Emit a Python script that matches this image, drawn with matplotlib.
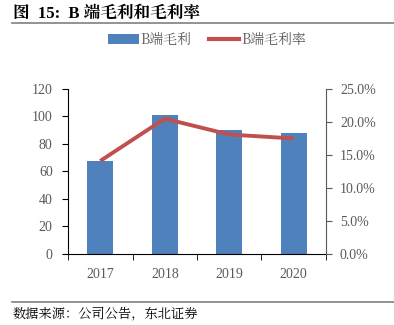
import matplotlib

matplotlib.use("Agg")

import matplotlib.pyplot as plt
import numpy as np
from matplotlib.lines import Line2D
from matplotlib.patches import Patch

# data
years = ["2017", "2018", "2019", "2020"]
gross_profit = [67.5, 101.0, 90.0, 88.0]        # B端毛利
gross_margin = [0.141, 0.205, 0.181, 0.175]     # B端毛利率

left_ticks = [0, 20, 40, 60, 80, 100, 120]
right_ticks = [0.0, 0.05, 0.10, 0.15, 0.20, 0.25]

BAR_BLUE = "#4F81BD"
LINE_RED = "#C0504D"
GREY = "#595959"
NUM_FONT = ["Liberation Serif", "Noto Sans CJK SC"]
CJK_FONT = ["Noto Serif CJK SC", "Noto Sans CJK SC", "DejaVu Sans"]

plt.rcParams["font.family"] = NUM_FONT

fig = plt.figure(figsize=(3.94, 3.25), dpi=100)
ax = fig.add_axes([0.1726, 0.2185, 0.6548, 0.5077])

x = np.arange(len(years))
ax.bar(x, gross_profit, width=0.4, color=BAR_BLUE, zorder=2)
ax.set_xlim(-0.5, len(years) - 0.5)
ax.set_ylim(0, 120)
ax.set_yticks(left_ticks)
ax.set_yticklabels([str(t) for t in left_ticks], fontsize=10, color=GREY)
ax.set_xticks(x)
ax.set_xticklabels(years, fontsize=10, color=GREY)
ax.tick_params(axis="x", length=0, pad=10)
ax.set_xticks(np.arange(-0.5, len(years)), minor=True)
ax.tick_params(axis="x", which="minor", length=4, direction="out", color="black")
ax.tick_params(axis="y", length=4, direction="out", color="black", pad=7)
ax.spines["top"].set_visible(False)
ax.spines["right"].set_visible(False)
ax.spines["left"].set_color("black")
ax.spines["bottom"].set_color("black")

ax2 = ax.twinx()
ax2.plot(x, gross_margin, color=LINE_RED, lw=2.8, solid_capstyle="butt", zorder=3)
ax2.set_ylim(0, 0.25)
ax2.set_yticks(right_ticks)
ax2.set_yticklabels([f"{t * 100:.1f}%" for t in right_ticks], fontsize=10, color=GREY)
ax2.tick_params(axis="y", length=4, direction="out", color=GREY, pad=6)
for side in ("top", "left", "bottom"):
    ax2.spines[side].set_visible(False)
ax2.spines["right"].set_color(GREY)

# legend above the plot
handles = [
    Patch(facecolor=BAR_BLUE, edgecolor="none"),
    Line2D([0], [0], color=LINE_RED, lw=3),
]
fig.legend(handles, ["B端毛利", "B端毛利率"], loc="center", bbox_to_anchor=(0.525, 0.877),
           ncol=2, frameon=False, prop={"family": CJK_FONT, "size": 10},
           handlelength=2.2, handletextpad=0.1, columnspacing=1.3, labelcolor=GREY)

# title, rules, source
fig.text(0.033, 0.957, "图  15:  B 端毛利和毛利率", fontsize=12, fontweight="bold",
         family=["Liberation Serif", "Noto Serif CJK SC", "Noto Sans CJK SC"],
         va="center", ha="left")
fig.add_artist(Line2D([0.03, 1.0], [0.928, 0.928], color="#808080", lw=1.2))
fig.add_artist(Line2D([0.03, 1.0], [0.071, 0.071], color="#808080", lw=1.2))
fig.text(0.033, 0.037, "数据来源：公司公告，东北证券", fontsize=9.5,
         family=CJK_FONT, va="center", ha="left")

fig.savefig("out.png", dpi=100)
